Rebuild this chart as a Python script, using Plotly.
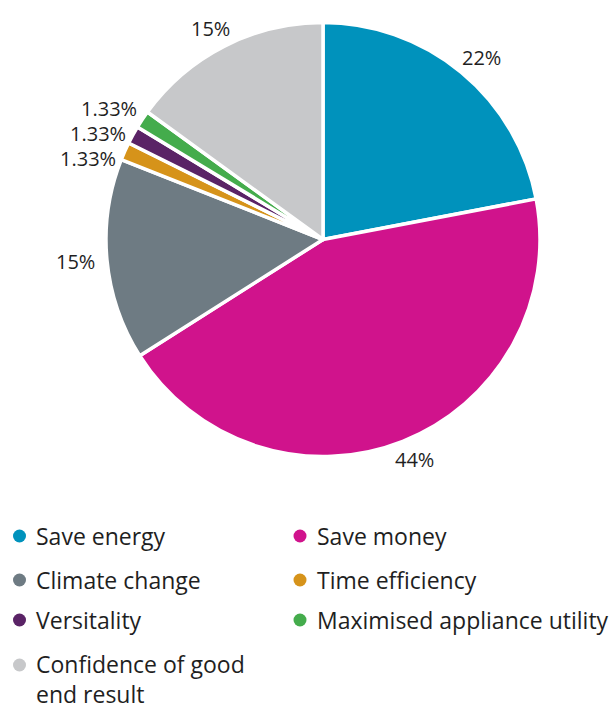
import math
import plotly.graph_objects as go

# Survey responses: reasons given, share of respondents (%)
categories = [
    "Save energy",
    "Save money",
    "Climate change",
    "Time efficiency",
    "Versitality",
    "Maximised appliance utility",
    "Confidence of good<br>end result",
]
values = [22, 44, 15, 1.33, 1.33, 1.33, 15]
colors = ["#0092BC", "#D0138C", "#6E7B83", "#D6931A", "#5A2366", "#44AC4C", "#C7C8CA"]
labels = [f"{v:g}%" for v in values]

W, H = 610, 704
FONT = "Open Sans"
TEXT_COLOR = "#1f1f1f"
LABEL_SIZE = 20
LEGEND_SIZE = 23

# Pie geometry in pixels
CX, CY, R = 323, 239.5, 217


def px_x(x):
    return x / W


def px_y(y):
    return 1 - y / H


fig = go.Figure()
fig.add_trace(
    go.Pie(
        labels=categories,
        values=values,
        sort=False,
        direction="clockwise",
        rotation=0,
        marker=dict(colors=colors, line=dict(color="white", width=3.5)),
        textinfo="none",
        hoverinfo="label+percent",
        showlegend=False,
        domain=dict(x=[px_x(CX - R), px_x(CX + R)], y=[px_y(CY + R), px_y(CY - R)]),
    )
)


def text_width(s, size=LABEL_SIZE):
    w = 0
    for ch in s:
        if ch.isdigit():
            w += 0.572 * size
        elif ch == "%":
            w += 0.9 * size
        elif ch == ".":
            w += 0.27 * size
        else:
            w += 0.55 * size
    return w


# Percentage labels placed just outside each slice, at its mid angle
label_pos = []
total = sum(values)
cum = 0
for v, lab in zip(values, labels):
    mid = (cum + v / 2) / total * 2 * math.pi
    cum += v
    s, c = math.sin(mid), math.cos(mid)
    d = R + 11
    hw, hh = text_width(lab) / 2, 8.5
    label_pos.append([CX + d * s + hw * s, CY - d * c - hh * c, lab, s])

# Push crowded labels on the same side apart vertically (top to bottom)
MIN_GAP = 25
for side in (-1, 1):
    group = sorted([p for p in label_pos if p[3] * side > 0.5], key=lambda p: p[1])
    for a, b in zip(group, group[1:]):
        if b[1] - a[1] < MIN_GAP:
            b[1] = a[1] + MIN_GAP

annotations = []
for x, y, lab, _ in label_pos:
    annotations.append(
        dict(
            x=px_x(x), y=px_y(y), xref="paper", yref="paper",
            text=lab, showarrow=False, xanchor="center", yanchor="middle",
            font=dict(family=FONT, size=LABEL_SIZE, color=TEXT_COLOR),
        )
    )

# Two-column legend with round markers
col_marker_x = [19.5, 300]
col_text_x = [34, 315]
row_y = [536, 580, 620, 665]
LINE_H = 27
shapes = []
for i, (cat, col) in enumerate(zip(categories, colors)):
    r, cidx = divmod(i, 2)
    my = row_y[r]
    mx = col_marker_x[cidx]
    shapes.append(
        dict(
            type="circle", xref="paper", yref="paper",
            x0=px_x(mx - 6.5), x1=px_x(mx + 6.5),
            y0=px_y(my + 6.5), y1=px_y(my - 6.5),
            fillcolor=col, line=dict(width=0),
        )
    )
    n_lines = cat.count("<br>") + 1
    ty = my + (n_lines - 1) * LINE_H / 2
    annotations.append(
        dict(
            x=px_x(col_text_x[cidx]), y=px_y(ty), xref="paper", yref="paper",
            text=cat, showarrow=False, xanchor="left", yanchor="middle", align="left",
            font=dict(family=FONT, size=LEGEND_SIZE, color=TEXT_COLOR),
        )
    )

fig.update_layout(
    width=W,
    height=H,
    margin=dict(l=0, r=0, t=0, b=0),
    paper_bgcolor="white",
    plot_bgcolor="white",
    annotations=annotations,
    shapes=shapes,
    showlegend=False,
)

fig.write_html("out.html")
